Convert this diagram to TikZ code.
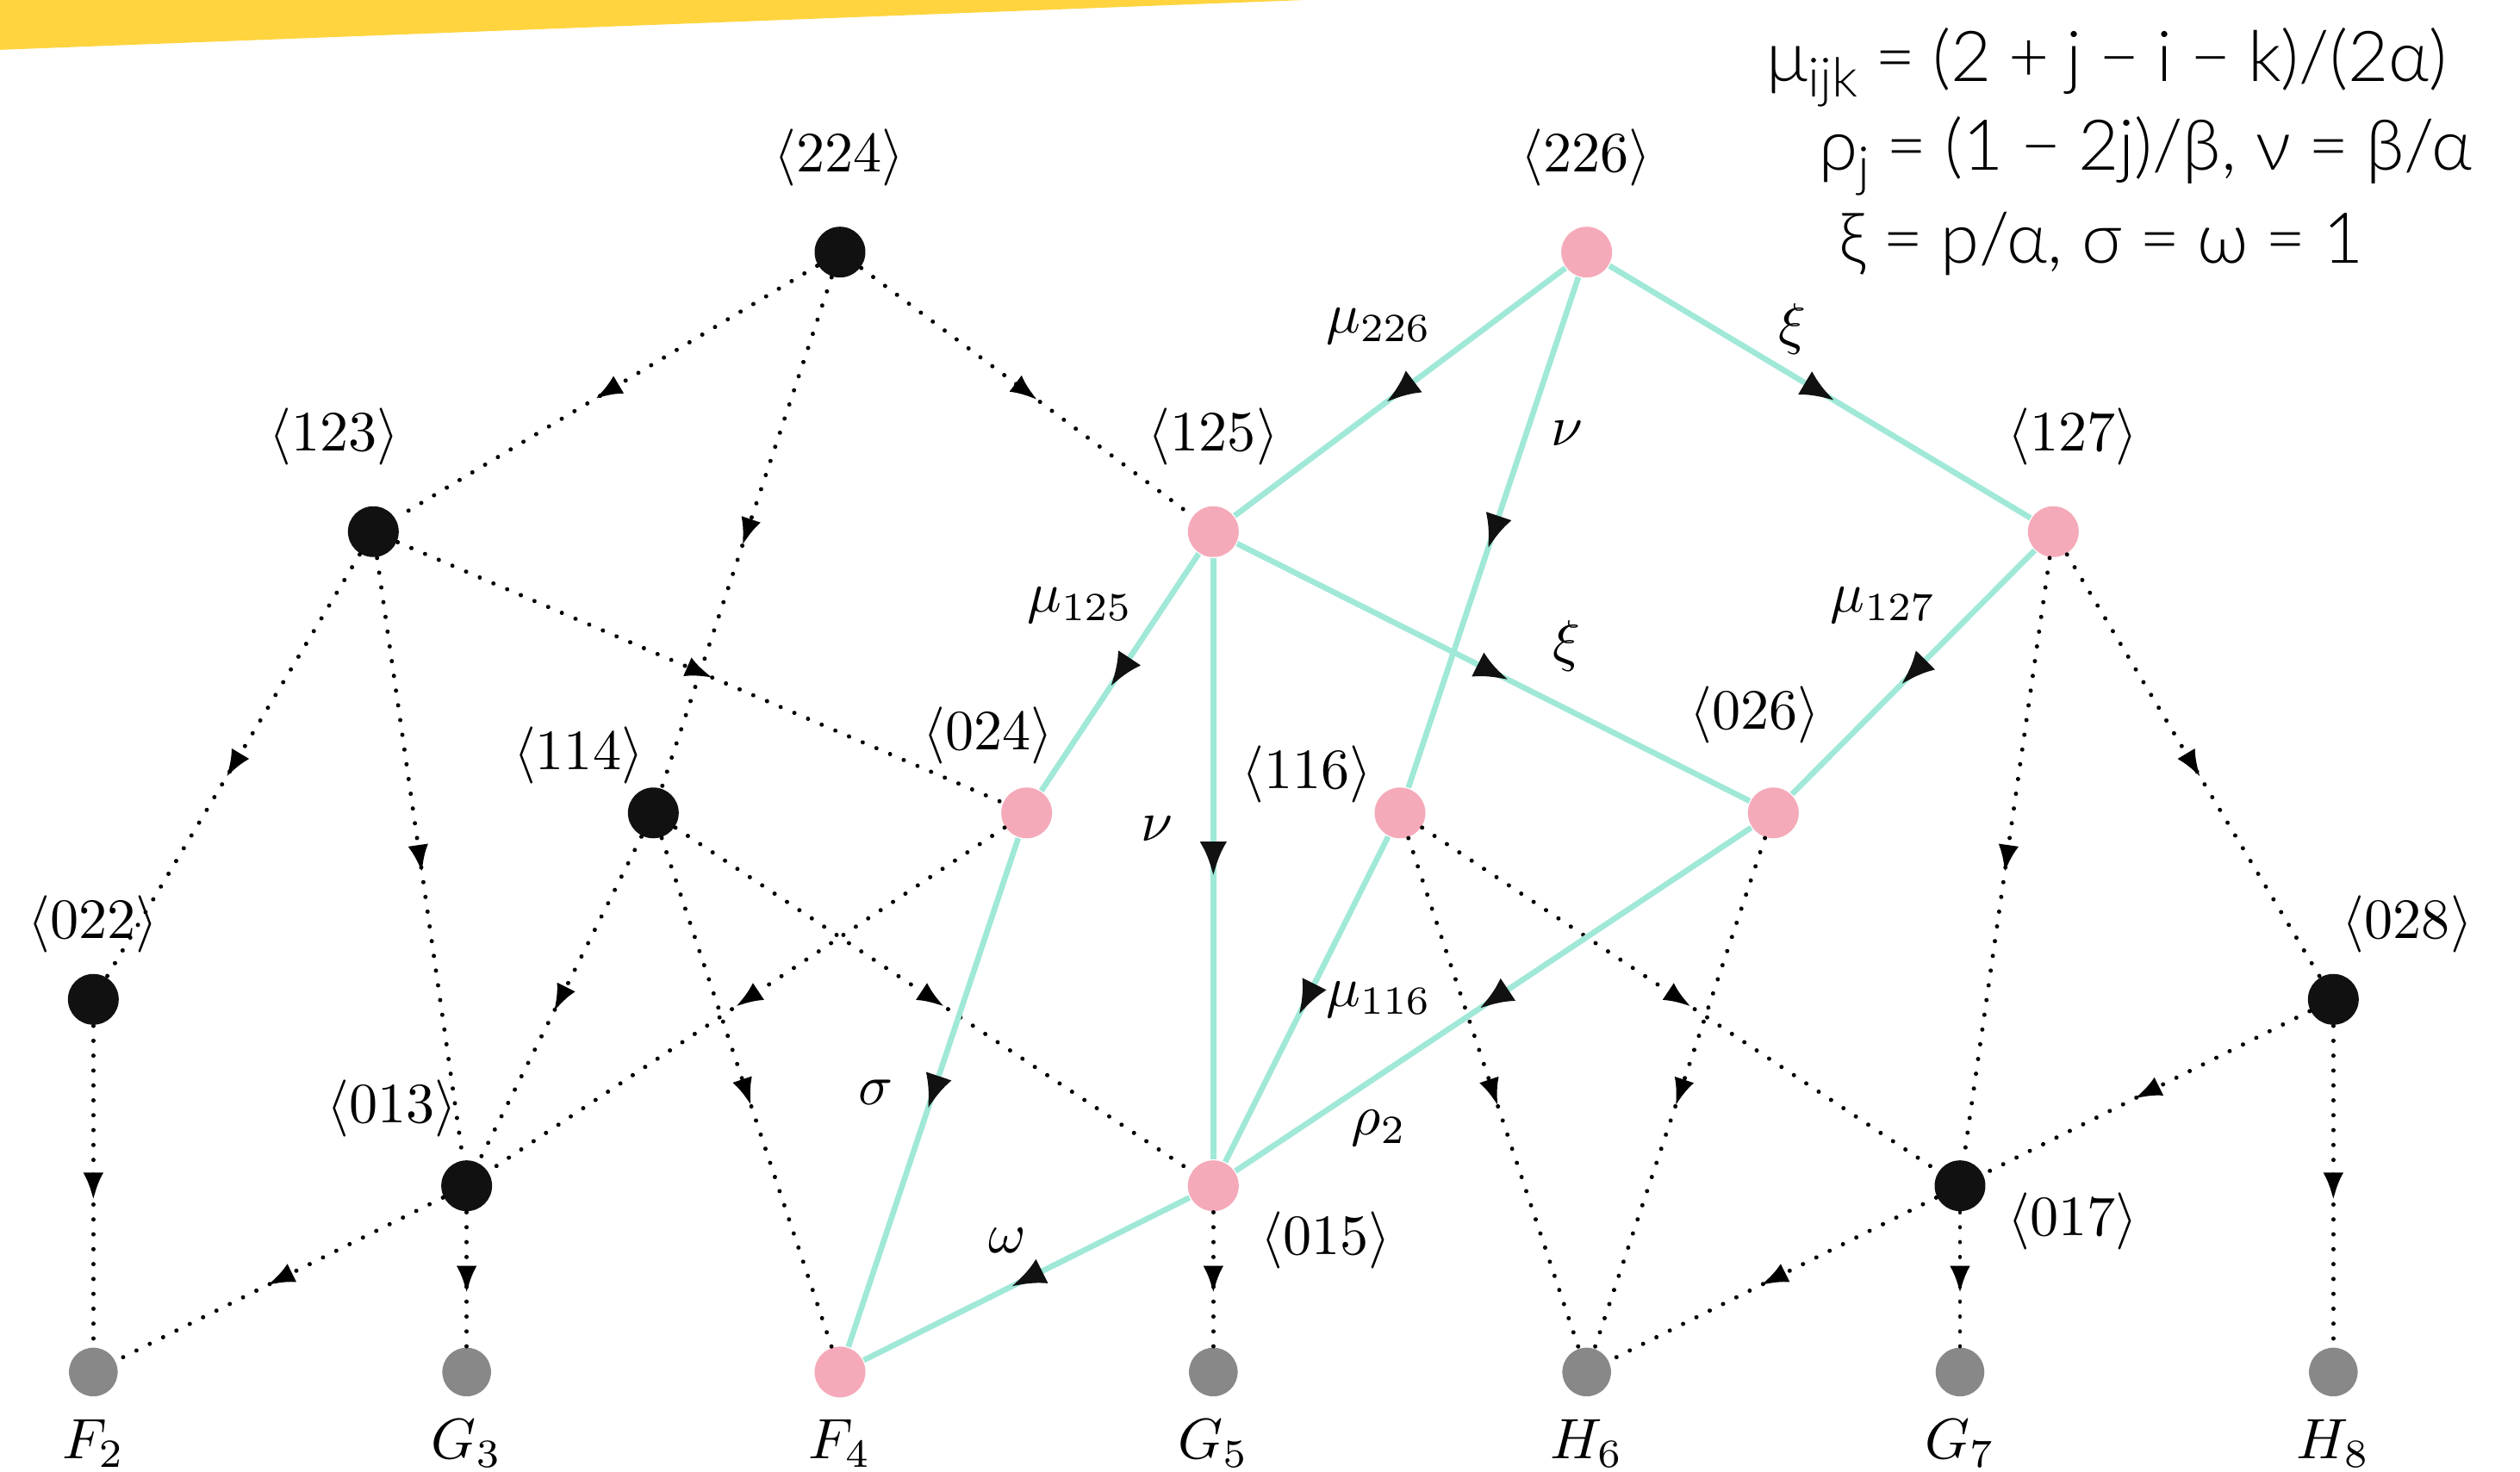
\documentclass[tikz,border=0pt]{standalone}
\usepackage{fontspec}
\newfontfamily\formfont{Lato}[UprightFont={* Light}]
\usetikzlibrary{arrows.meta,decorations.markings}
\definecolor{tealline}{RGB}{160,232,216}
\definecolor{pinknode}{RGB}{245,170,186}
\definecolor{graynode}{RGB}{136,136,136}
\definecolor{blacknode}{RGB}{17,17,17}
\definecolor{bandyellow}{RGB}{255,212,63}
\newcommand{\eqsp}{\hspace{3pt}}
\newcommand{\opsp}{\hspace{3pt}}
\begin{document}
\begin{tikzpicture}[x=1.15cm,y=1.15cm,
  base/.style={circle,inner sep=0pt,minimum size=0.313cm},
  bnode/.style={base,fill=blacknode},
  pnode/.style={base,fill=pinknode},
  gnode/.style={base,fill=graynode,minimum size=0.30cm},
  lab/.style={inner sep=0pt,font=\fontsize{10}{12}\selectfont},
  form/.style={inner sep=0pt,anchor=west,font=\formfont\fontsize{12.3}{14}\selectfont},
  dotedge/.style={line width=0.75pt,dash pattern=on 0.01pt off 2.6pt,line cap=round,
    postaction={decorate},
    decoration={markings,mark=at position 0.5 with {\arrow[xshift=2.4pt]{Latex[length=4.8pt,width=3.6pt]}}}},
  tedge/.style={line width=1pt,draw=tealline,
    postaction={decorate},
    decoration={markings,mark=at position 0.5 with {\arrow[xshift=3pt,blacknode]{Latex[length=6pt,width=4.8pt]}}}}
]
\useasboundingbox (0,0) rectangle (13.5,7.886);
\fill[bandyellow] (0,7.886) -- (6.99,7.886) -- (0,7.619) -- cycle;

% nodes
\node[bnode] (n224) at (4.5,6.535) {};
\node[pnode] (n226) at (8.5,6.535) {};
\node[bnode] (n123) at (2,5.037) {};
\node[pnode] (n125) at (6.5,5.037) {};
\node[pnode] (n127) at (11,5.037) {};
\node[bnode] (n114) at (3.5,3.530) {};
\node[pnode] (n024) at (5.5,3.530) {};
\node[pnode] (n116) at (7.5,3.530) {};
\node[pnode] (n026) at (9.5,3.530) {};
\node[bnode] (n022) at (0.5,2.531) {};
\node[bnode] (n028) at (12.5,2.531) {};
\node[bnode] (n013) at (2.5,1.532) {};
\node[pnode] (n015) at (6.5,1.532) {};
\node[bnode] (n017) at (10.5,1.532) {};
\node[gnode] (F2) at (0.5,0.534) {};
\node[gnode] (G3) at (2.5,0.534) {};
\node[pnode] (F4) at (4.5,0.534) {};
\node[gnode] (G5) at (6.5,0.534) {};
\node[gnode] (H6) at (8.5,0.534) {};
\node[gnode] (G7) at (10.5,0.534) {};
\node[gnode] (H8) at (12.5,0.534) {};

% dotted edges
\draw[dotedge] (n224) -- (n123);
\draw[dotedge] (n224) -- (n114);
\draw[dotedge] (n224) -- (n125);
\draw[dotedge] (n123) -- (n022);
\draw[dotedge] (n123) -- (n013);
\draw[dotedge] (n123) -- (n024);
\draw[dotedge] (n114) -- (n013);
\draw[dotedge] (n114) -- (F4);
\draw[dotedge] (n114) -- (n015);
\draw[dotedge] (n024) -- (n013);
\draw[dotedge] (n022) -- (F2);
\draw[dotedge] (n013) -- (F2);
\draw[dotedge] (n013) -- (G3);
\draw[dotedge] (n015) -- (G5);
\draw[dotedge] (n116) -- (H6);
\draw[dotedge] (n116) -- (n017);
\draw[dotedge] (n026) -- (H6);
\draw[dotedge] (n127) -- (n017);
\draw[dotedge] (n127) -- (n028);
\draw[dotedge] (n028) -- (n017);
\draw[dotedge] (n017) -- (H6);
\draw[dotedge] (n017) -- (G7);
\draw[dotedge] (n028) -- (H8);

% teal edges
\draw[tedge] (n226) -- (n125);
\draw[tedge] (n226) -- (n116);
\draw[tedge] (n226) -- (n127);
\draw[tedge] (n125) -- (n024);
\draw[tedge] (n125) -- (n015);
\draw[tedge] (n125) -- (n026);
\draw[tedge] (n127) -- (n026);
\draw[tedge] (n024) -- (F4);
\draw[tedge] (n116) -- (n015);
\draw[tedge] (n026) -- (n015);
\draw[tedge] (n015) -- (F4);

% node labels
\node[lab] (l224) at (4.494,7.043) {$\langle 224\rangle$};
\node[lab] (l226) at (8.498,7.043) {$\langle 226\rangle$};
\node[lab] (l123) at (1.791,5.545) {$\langle 123\rangle$};
\node[lab] (l125) at (6.5,5.545) {$\langle 125\rangle$};
\node[lab] (l127) at (11.106,5.545) {$\langle 127\rangle$};
\node[lab] (l114) at (3.099,3.840) {$\langle 114\rangle$};
\node[lab] (l024) at (5.295,3.943) {$\langle 024\rangle$};
\node[lab] (l116) at (7.0,3.737) {$\langle 116\rangle$};
\node[lab] (l026) at (9.402,4.055) {$\langle 026\rangle$};
\node[lab] (l022) at (0.5,2.936) {$\langle 022\rangle$};
\node[lab] (l028) at (12.897,2.936) {$\langle 028\rangle$};
\node[lab] (l013) at (2.101,1.946) {$\langle 013\rangle$};
\node[lab] (l015) at (7.103,1.240) {$\langle 015\rangle$};
\node[lab] (l017) at (11.106,1.343) {$\langle 017\rangle$};
\node[lab] (tF2) at (0.5,0.15) {$F_2$};
\node[lab] (tG3) at (2.5,0.15) {$G_3$};
\node[lab] (tF4) at (4.5,0.15) {$F_4$};
\node[lab] (tG5) at (6.5,0.15) {$G_5$};
\node[lab] (tH6) at (8.5,0.15) {$H_6$};
\node[lab] (tG7) at (10.5,0.15) {$G_7$};
\node[lab] (tH8) at (12.5,0.15) {$H_8$};

% edge labels
\node[lab] (e1) at (7.387,6.139) {$\mu_{226}$};
\node[lab] (e2) at (8.394,5.562) {$\nu$};
\node[lab] (e3) at (9.600,6.121) {$\xi$};
\node[lab] (e4) at (5.786,4.641) {$\mu_{125}$};
\node[lab] (e5) at (6.199,3.444) {$\nu$};
\node[lab] (e6) at (8.394,4.425) {$\xi$};
\node[lab] (e7) at (10.090,4.641) {$\mu_{127}$};
\node[lab] (e8) at (4.692,2.032) {$\sigma$};
\node[lab] (e9) at (7.387,2.531) {$\mu_{116}$};
\node[lab] (e10) at (7.387,1.842) {$\rho_2$};
\node[lab] (e11) at (5.398,1.240) {$\omega$};

% formulas
\node[form] (f1) at (9.459,7.525) {μ\lower0.45ex\hbox{\fontsize{9.5}{11}\selectfont ijk}\eqsp=\eqsp(2\opsp+\opsp j\opsp−\opsp i\opsp−\opsp k)/(2α)};
\node[form] (f2) at (9.737,7.051) {ρ\lower0.45ex\hbox{\fontsize{9.5}{11}\selectfont j}\eqsp=\eqsp(1\opsp−\opsp 2j)/β,\ ν\eqsp=\eqsp β/α};
\node[form] (f3) at (9.846,6.578) {ξ\eqsp=\eqsp p/α,\ σ\eqsp=\eqsp ω\eqsp=\eqsp 1};
\end{tikzpicture}
\end{document}
